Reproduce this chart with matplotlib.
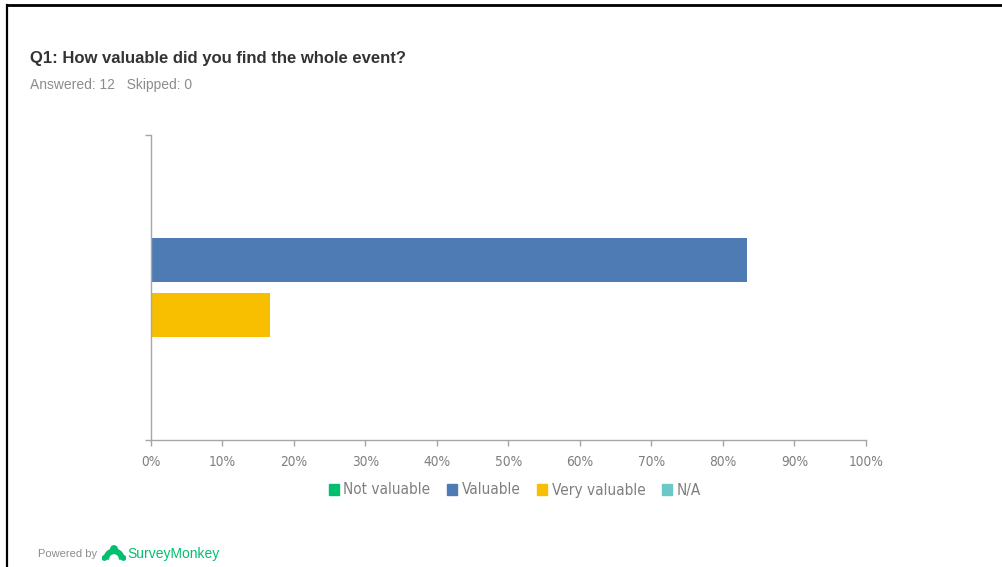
import matplotlib
matplotlib.use("Agg")
import matplotlib.pyplot as plt
from matplotlib.lines import Line2D
from matplotlib.patches import Rectangle, Wedge, Circle
from matplotlib.font_manager import FontProperties

# Survey results for Q1
series = ["Not valuable", "Valuable", "Very valuable", "N/A"]
percent = [0.0, 83.33, 16.67, 0.0]
colors = ["#00bf6f", "#4f7bb4", "#f8be00", "#6cc8c8"]
xticks = [0, 10, 20, 30, 40, 50, 60, 70, 80, 90, 100]
xtick_labels = [f"{t}%" for t in xticks]

title = "Q1: How valuable did you find the whole event?"
subtitle = "Answered: 12   Skipped: 0"

W, H = 1003, 567
fig = plt.figure(figsize=(W / 100, H / 100), dpi=100)
fig.patch.set_facecolor("white")

sans = ["Liberation Sans", "DejaVu Sans"]
tick_font = FontProperties(family="DejaVu Sans", stretch="condensed", size=9.8)
legend_font = FontProperties(family="DejaVu Sans", stretch="condensed", size=11)

ax = fig.add_axes([151 / W, 1 - 440 / H, (866 - 151) / W, (440 - 135) / H])
pos = list(range(len(series)))
ax.barh(pos, percent, height=0.8, color=colors)
ax.set_xlim(0, 100)
ax.set_ylim(4.273, -1.273)

ax.set_xticks(xticks)
ax.set_xticklabels(xtick_labels, fontproperties=tick_font, color="#7f7f7f")
ax.set_yticks([-1.273, 4.273])
ax.set_yticklabels([])
ax.tick_params(axis="x", length=4, width=1, color="#a6a6a6", pad=7)
ax.tick_params(axis="y", length=4, width=1, color="#a6a6a6")
for s in ("top", "right"):
    ax.spines[s].set_visible(False)
for s in ("left", "bottom"):
    ax.spines[s].set_color("#a6a6a6")
    ax.spines[s].set_linewidth(1)

# Legend
handles = [Rectangle((0, 0), 1, 1, color=c) for c in colors]
fig.legend(handles, series, loc="center", bbox_to_anchor=(515 / W, 1 - 490 / H),
           ncol=4, frameon=False, handlelength=0.65, handleheight=0.7,
           handletextpad=0.3, columnspacing=1.1,
           prop=legend_font, labelcolor="#7f7f7f")

# Header text
fig.text(30 / W, 1 - 59 / H, title, family=sans, fontsize=12, fontweight="bold",
         color="#333333", va="center", ha="left")
fig.text(30 / W, 1 - 85 / H, subtitle, family=sans, fontsize=10,
         color="#8c8c8c", va="center", ha="left")

# Footer branding
fig.text(38 / W, 1 - 554 / H, "Powered by", family=sans, fontsize=8,
         color="#8c8c8c", va="center", ha="left")
fig.text(127 / W, 1 - 554 / H, "SurveyMonkey", family=sans, fontsize=10,
         color="#00bf6f", va="center", ha="left")
logo_ax = fig.add_axes([102 / W, 1 - 563 / H, 24 / W, 18 / H])
logo_ax.set_xlim(0, 24)
logo_ax.set_ylim(0, 18)
logo_ax.set_aspect("equal")
logo_ax.axis("off")
logo_ax.add_patch(Wedge((12, 4), 10, 0, 180, width=4.5, color="#00bf6f"))
logo_ax.add_patch(Circle((12, 14), 3.2, color="#00bf6f"))
logo_ax.add_patch(Circle((2.5, 5), 2.2, color="#00bf6f"))
logo_ax.add_patch(Circle((21.5, 5), 2.2, color="#00bf6f"))

# Page frame lines
fig.add_artist(Line2D([7 / W, 1], [1 - 5 / H, 1 - 5 / H], color="black", lw=2,
                      transform=fig.transFigure))
fig.add_artist(Line2D([7.5 / W, 7.5 / W], [0, 1 - 5 / H], color="black", lw=1.6,
                      transform=fig.transFigure))

fig.savefig("out.png", dpi=100, facecolor="white")
